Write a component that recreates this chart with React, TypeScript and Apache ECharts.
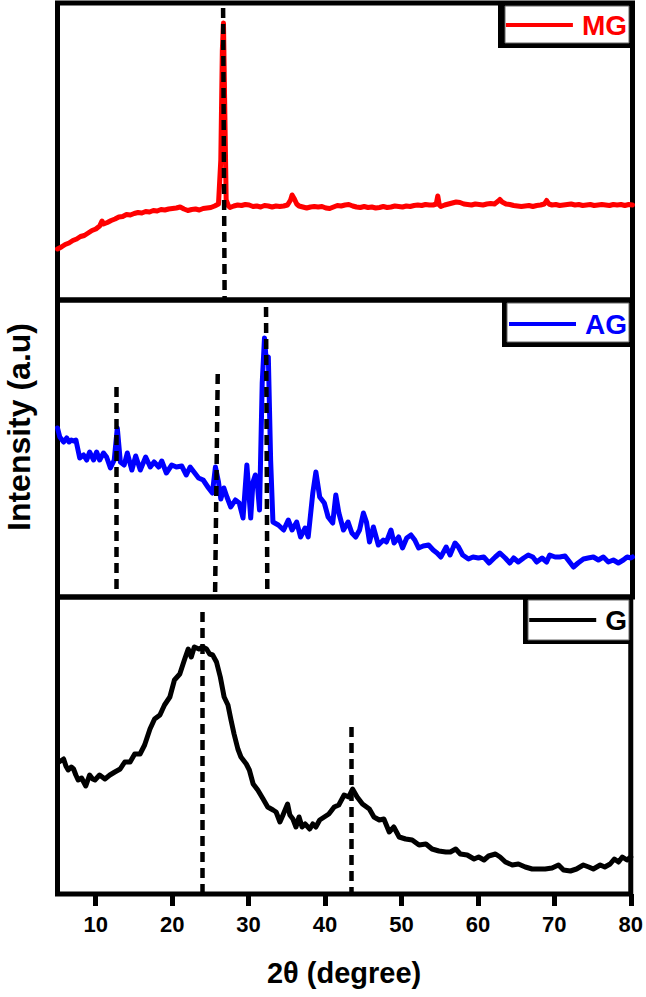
import React, { useEffect, useRef } from "react";
import * as echarts from "echarts";

// 2θ tick labels on the bottom axis
const twoThetaTicks = [10, 20, 30, 40, 50, 60, 70, 80];

// MG pattern [2θ, intensity a.u.]
const mgData: [number, number][] = [
  [5.0, 51], [5.5, 53], [6.0, 55.5], [6.5, 57], [7.0, 59.5], [7.5, 61], [8.0, 63.5], [8.5, 64.5],
  [9.0, 67], [9.5, 69.5], [10.0, 71], [10.5, 74], [10.8, 79], [11.0, 76], [11.5, 77.5], [12.0, 79.5],
  [12.5, 81], [13.0, 83], [13.5, 83.5], [14.0, 85.5], [14.5, 85], [15.0, 86.5], [15.5, 87.5], [16.0, 87],
  [16.5, 88.5], [17.0, 88], [17.5, 89.5], [18.0, 89], [18.5, 90.5], [19.0, 90], [19.5, 91], [20.0, 91.5],
  [20.5, 92], [21.0, 93], [21.5, 91], [22.0, 89.5], [22.5, 90.5], [23.0, 91], [23.5, 90], [24.0, 91.5],
  [24.5, 92], [25.0, 92.5], [25.5, 94], [26.0, 96], [26.3, 140], [26.5, 250], [26.65, 277], [26.8, 200],
  [27.0, 100], [27.3, 94], [27.5, 92.5], [28.0, 94], [28.5, 95], [29.0, 94.5], [29.5, 95.5], [30.0, 95],
  [30.5, 93.5], [31.0, 94], [31.5, 93], [32.0, 94.5], [32.5, 94], [33.0, 93], [33.5, 94], [34.0, 93.5],
  [34.5, 94], [35.0, 95], [35.4, 100], [35.6, 105], [35.9, 101], [36.2, 96], [36.5, 94], [37.0, 93],
  [37.5, 92], [38.0, 93], [38.5, 93.5], [39.0, 93], [39.5, 93.5], [40.0, 92], [40.5, 91.5], [41.0, 93],
  [41.5, 94.5], [42.0, 94], [42.5, 95], [43.0, 95.5], [43.5, 94], [44.0, 93], [44.5, 92.5], [45.0, 93.5],
  [45.5, 92.5], [46.0, 93], [46.5, 92], [47.0, 92.5], [47.5, 93.5], [48.0, 92.5], [48.5, 93], [49.0, 94],
  [49.5, 93.5], [50.0, 93], [50.5, 94], [51.0, 93.5], [51.5, 94.5], [52.0, 95], [52.5, 94.5], [53.0, 95.5],
  [53.5, 95], [54.0, 95], [54.4, 96], [54.6, 104], [54.8, 95], [55.0, 93.5], [55.5, 95], [56.0, 96],
  [56.5, 97], [57.0, 98], [57.5, 97.5], [58.0, 96], [58.5, 95.5], [59.0, 95], [59.5, 96], [60.0, 95.5],
  [60.5, 95], [61.0, 96], [61.5, 96.5], [62.0, 96], [62.5, 99], [62.7, 100.5], [63.0, 98], [63.5, 96],
  [64.0, 95.5], [64.5, 94.5], [65.0, 94], [65.5, 93.5], [66.0, 94], [66.5, 94.5], [67.0, 93.5], [67.5, 94.5],
  [68.0, 95], [68.5, 96], [68.8, 99.5], [69.1, 96], [69.5, 95], [70.0, 95.5], [70.5, 94.5], [71.0, 95],
  [71.5, 95.5], [72.0, 96], [72.5, 95], [73.0, 95.5], [73.5, 94.5], [74.0, 95], [74.5, 95.5], [75.0, 94.5],
  [75.5, 95], [76.0, 95.5], [76.5, 95], [77.0, 94.5], [77.5, 95.5], [78.0, 95], [78.5, 95.5], [79.0, 94.5],
  [79.5, 95.5], [80.0, 95],
];

// AG pattern [2θ, intensity a.u.]
const agData: [number, number][] = [
  [5.0, 169], [5.3, 160], [5.8, 155], [6.2, 159], [6.5, 155], [6.8, 157], [7.1, 156], [7.4, 157],
  [7.9, 139], [8.4, 142], [8.8, 137], [9.2, 145], [9.7, 137], [10.1, 145], [10.5, 137], [11.0, 144],
  [11.4, 140], [11.9, 129], [12.4, 137], [12.8, 169], [13.2, 135], [13.7, 132], [14.1, 144], [14.7, 127],
  [15.2, 141], [15.8, 127], [16.5, 140], [17.1, 130], [17.6, 135], [18.2, 130], [18.6, 136], [19.2, 124],
  [19.9, 132], [20.5, 130], [21.2, 131], [21.8, 122], [22.3, 130], [22.8, 125], [23.4, 119], [24.0, 117],
  [24.7, 109], [25.2, 104], [25.6, 130], [26.0, 115], [26.3, 98], [26.7, 109], [27.1, 100], [27.6, 90],
  [28.2, 97], [28.7, 94], [29.2, 79], [29.7, 132], [30.2, 79], [30.5, 115], [30.8, 122], [31.1, 110],
  [31.35, 87], [31.7, 214], [32.0, 259], [32.2, 239], [32.5, 240], [32.8, 137], [33.1, 75], [33.8, 72],
  [34.5, 67], [35.1, 77], [35.6, 67], [36.2, 75], [36.7, 60], [37.3, 69], [37.7, 60], [38.3, 104],
  [38.7, 125], [39.2, 100], [39.8, 94], [40.3, 80], [40.9, 74], [41.3, 102], [41.7, 84], [42.3, 67],
  [42.9, 75], [43.4, 64], [43.9, 60], [44.4, 67], [44.9, 84], [45.3, 75], [45.7, 55], [46.2, 70],
  [46.85, 52], [47.5, 57], [47.9, 55], [48.5, 67], [48.9, 54], [49.5, 60], [50.0, 49], [50.55, 59],
  [51.1, 62], [51.6, 57], [52.1, 49], [52.7, 51], [53.4, 52], [54.0, 47], [54.5, 44], [55.0, 40],
  [55.7, 50], [56.2, 42], [56.85, 54], [57.3, 50], [57.85, 42], [58.6, 38], [59.2, 40], [59.9, 39],
  [60.6, 40], [61.3, 34], [62.1, 40], [62.7, 44], [63.4, 39], [64.0, 34], [64.5, 39], [65.1, 35],
  [65.8, 39], [66.4, 42], [67.0, 40], [67.5, 35], [68.2, 39], [68.8, 35], [69.2, 42], [69.9, 40],
  [70.5, 40], [71.2, 41], [71.6, 37], [72.3, 30], [72.9, 34], [73.6, 38], [74.2, 39], [74.9, 40],
  [75.55, 37], [76.2, 40], [76.85, 35], [77.5, 37], [78.15, 34], [78.8, 37], [79.3, 40], [79.8, 39],
  [80.0, 40],
];

// G pattern [2θ, intensity a.u.]
const gData: [number, number][] = [
  [5.0, 131], [5.4, 133], [5.8, 135], [6.1, 128], [6.4, 124], [6.8, 127], [7.1, 125], [7.4, 119],
  [7.7, 114], [8.15, 116], [8.7, 108], [9.2, 119], [9.6, 115], [9.9, 114], [10.5, 119], [11.2, 115],
  [11.85, 119], [12.5, 122], [13.2, 125], [13.8, 132], [14.5, 132], [15.1, 140], [15.8, 140], [16.4, 149],
  [17.1, 165], [17.7, 175], [18.4, 179], [19.0, 189], [19.7, 197], [20.3, 214], [21.0, 220], [21.6, 234],
  [22.1, 245], [22.5, 237], [22.9, 247], [23.5, 245], [24.0, 247], [24.5, 245], [24.9, 240], [25.3, 239],
  [25.8, 232], [26.3, 217], [26.8, 197], [27.3, 189], [27.7, 174], [28.1, 160], [28.6, 145], [29.0, 137],
  [29.7, 130], [30.1, 124], [30.6, 110], [31.2, 104], [31.9, 95], [32.5, 87], [33.2, 84], [33.6, 82],
  [34.1, 72], [34.5, 79], [35.1, 90], [35.4, 79], [35.8, 75], [36.2, 67], [36.6, 77], [37.0, 67],
  [37.4, 70], [38.0, 65], [38.4, 70], [38.8, 67], [39.3, 74], [39.9, 77], [40.5, 80], [41.2, 87],
  [41.8, 89], [42.5, 99], [43.1, 97], [43.6, 105], [44.2, 97], [44.9, 90], [45.8, 85], [46.4, 77],
  [47.1, 74], [47.7, 75], [48.4, 62], [49.0, 67], [49.7, 57], [50.55, 55], [51.4, 54], [52.3, 49],
  [53.2, 50], [54.0, 45], [54.9, 43], [55.8, 42], [56.4, 42], [57.1, 45], [57.7, 40], [58.6, 39],
  [59.5, 35], [60.1, 37], [60.8, 34], [61.4, 38], [62.3, 40], [62.9, 37], [63.6, 32], [64.5, 29],
  [65.3, 30], [66.2, 27], [67.1, 25], [68.0, 25], [68.8, 25], [69.7, 26], [70.55, 29], [71.2, 24],
  [72.1, 23], [72.9, 25], [73.8, 29], [74.5, 27], [75.1, 25], [76.0, 29], [76.6, 27], [77.3, 30],
  [77.85, 35], [78.4, 32], [78.9, 37], [79.5, 34], [80.0, 37],
];

// dashed reference lines: 2θ at top, 2θ at bottom, top intensity
const mgRefLines = [[26.6, 26.8, 292]];
const agRefLines = [[12.6, 12.6, 210], [25.9, 25.55, 223], [32.2, 32.37, 290]];
const gRefLines = [[24.0, 24.0, 282], [43.46, 43.46, 167]];

const FONT = "'Liberation Sans', Arial, Helvetica, sans-serif";

function refLines(lines: number[][]) {
  return {
    silent: true,
    symbol: ["none", "none"],
    label: { show: false },
    lineStyle: { color: "#000", type: [10, 6], width: 4.5 },
    data: lines.map(([xt, xb, top]) => [{ coord: [xt, top] }, { coord: [xb, 0] }]),
  };
}

export default function App() {
  const ref = useRef<HTMLDivElement>(null);
  useEffect(() => {
    if (!ref.current) return;
    const chart = echarts.init(ref.current, null, { renderer: "svg" });
    const gridBase = { left: 57.5, width: 575, height: 297, show: true, borderWidth: 5, borderColor: "#000", backgroundColor: "transparent" };
    const hiddenX = (i: number) => ({ type: "value", gridIndex: i, min: 5, max: 80, show: false });
    const hiddenY = (i: number) => ({ type: "value", gridIndex: i, min: 0, max: 297, show: false });
    const legendBase = {
      orient: "horizontal",
      align: "left",
      right: 19,
      padding: 0,
      icon: "rect",
      itemWidth: 67,
      itemHeight: 4,
      selectedMode: false,
      z: 20,
    };
    const legendText = (color: string) => ({
      color,
      fontSize: 28,
      fontWeight: "bold",
      fontFamily: FONT,
      padding: [0, 0, 0, 4],
    });
    const lineSeries = (name: string, idx: number, data: [number, number][], color: string, lines: number[][]) => ({
      name,
      type: "line",
      xAxisIndex: idx,
      yAxisIndex: idx,
      data,
      showSymbol: false,
      color,
      lineStyle: { color, width: 5, join: "round", cap: "round" },
      markLine: refLines(lines),
    });
    chart.setOption({
      animation: false,
      backgroundColor: "#fff",
      grid: [
        { ...gridBase, top: 3 },
        { ...gridBase, top: 300 },
        { ...gridBase, top: 597 },
      ],
      xAxis: [
        hiddenX(0),
        hiddenX(1),
        {
          type: "value",
          gridIndex: 2,
          min: 5,
          max: 80,
          name: "2θ (degree)",
          nameLocation: "middle",
          nameGap: 64,
          nameTextStyle: { fontSize: 29, fontWeight: "bold", color: "#000", fontFamily: FONT },
          axisLine: { show: false },
          splitLine: { show: false },
          axisTick: {
            show: true,
            length: 12,
            inside: false,
            customValues: twoThetaTicks,
            lineStyle: { color: "#000", width: 5 },
          },
          axisLabel: {
            customValues: twoThetaTicks,
            margin: 19,
            fontSize: 22,
            fontWeight: "bold",
            color: "#000",
            fontFamily: FONT,
          },
        },
      ],
      yAxis: [hiddenY(0), hiddenY(1), hiddenY(2)],
      legend: [
        { ...legendBase, top: 11, data: ["MG"], textStyle: legendText("#ff0000") },
        { ...legendBase, top: 310, data: ["AG"], textStyle: legendText("#0000ff") },
        { ...legendBase, top: 606, data: ["G"], textStyle: legendText("#000000") },
      ],
      graphic: [
        { type: "rect", z: 5, shape: { x: 498, y: 3, width: 134, height: 45 }, style: { fill: "#000" } },
        { type: "rect", z: 6, shape: { x: 505, y: 6, width: 124, height: 37 }, style: { fill: "#fff", stroke: "#666", lineWidth: 1 } },
        { type: "rect", z: 5, shape: { x: 502, y: 300, width: 130, height: 47 }, style: { fill: "#000" } },
        { type: "rect", z: 6, shape: { x: 507, y: 303, width: 122, height: 39 }, style: { fill: "#fff", stroke: "#666", lineWidth: 1 } },
        { type: "rect", z: 5, shape: { x: 523, y: 597, width: 109, height: 47 }, style: { fill: "#000" } },
        { type: "rect", z: 6, shape: { x: 528, y: 600, width: 101, height: 40 }, style: { fill: "#fff", stroke: "#666", lineWidth: 1 } },
        {
          type: "text",
          z: 10,
          x: 19,
          y: 427,
          rotation: Math.PI / 2,
          style: {
            text: "Intensity (a.u)",
            fontSize: 32,
            fontWeight: "bold",
            fontFamily: FONT,
            fill: "#000",
            align: "center",
            verticalAlign: "middle",
          },
        },
      ],
      series: [
        lineSeries("MG", 0, mgData, "#ff0000", mgRefLines),
        lineSeries("AG", 1, agData, "#0000ff", agRefLines),
        lineSeries("G", 2, gData, "#000000", gRefLines),
      ],
    });
    return () => chart.dispose();
  }, []);
  return <div ref={ref} style={{ position: "absolute", left: 0, top: 0, width: 646, height: 997 }} />;
}
